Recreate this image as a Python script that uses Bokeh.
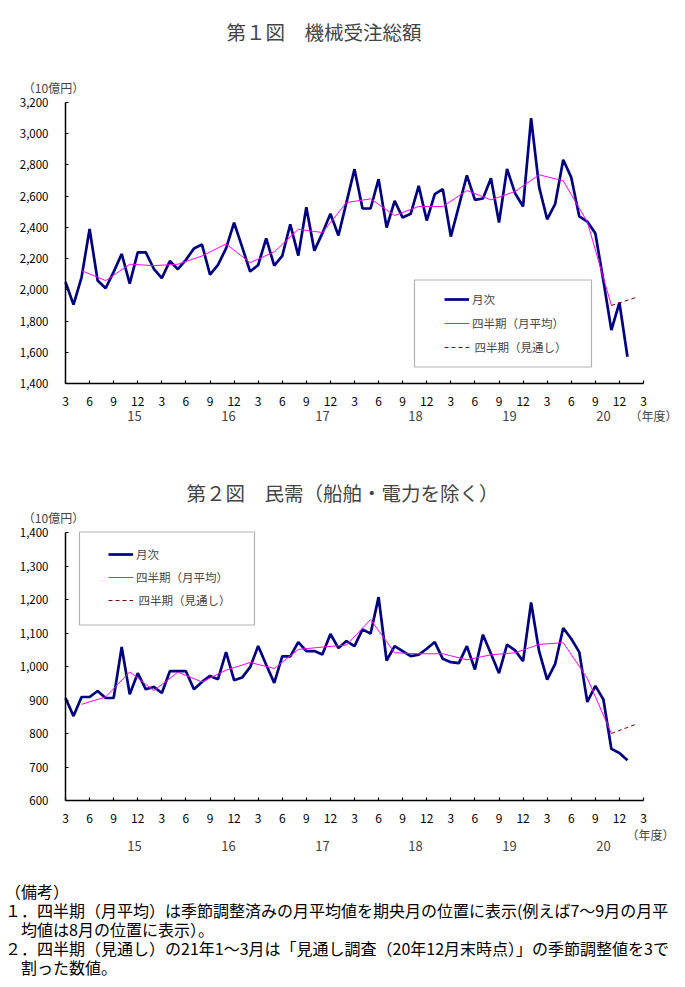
from bokeh.plotting import figure
from bokeh.models import (FixedTicker, NumeralTickFormatter, Label, Legend, LegendItem,
                          BoxAnnotation, Range1d, Div)
from bokeh.layouts import column
from bokeh.embed import file_html
from bokeh.resources import INLINE

FONT = "Noto Sans CJK JP"

# ---------------- data ----------------
month_tick_labels = ["3", "6", "9", "12"] * 6 + ["3"]
year_labels = ["15", "16", "17", "18", "19", "20"]
legend_labels = ["月次", "四半期（月平均）", " 四半期（見通し）"]

# Chart 1: total machinery orders (10 billion yen), monthly from Mar-2015
monthly_total = [2050, 1905, 2080, 2390, 2060, 2010, 2115, 2230, 2040, 2240,
                 2240, 2135, 2075, 2185, 2132, 2192, 2265, 2290, 2098, 2160,
                 2266, 2431, 2275, 2117, 2159, 2330, 2155, 2217, 2420, 2219,
                 2529, 2251, 2363, 2487, 2348, 2560, 2773, 2521, 2521, 2709,
                 2399, 2570, 2463, 2487, 2666, 2444, 2613, 2645, 2341, 2537,
                 2733, 2576, 2585, 2715, 2431, 2775, 2619, 2534, 3100, 2658,
                 2452, 2551, 2833, 2720, 2470, 2437, 2362, 2060, 1742, 1918,
                 1571]
quarterly_total = [2123, 2059, 2164, 2155, 2164, 2217, 2294, 2174, 2243, 2388,
                   2367, 2559, 2583, 2476, 2534, 2534, 2636, 2576, 2630, 2737,
                   2698, 2435, 1900]
outlook_total = [1900, 1950]

# Chart 2: private demand excl. ships & electric power
monthly_private = [906, 852, 909, 909, 927, 906, 906, 1058, 917, 980,
                   932, 939, 921, 986, 986, 986, 932, 954, 972, 962,
                   1043, 959, 967, 998, 1061, 1005, 951, 1030, 1030, 1073,
                   1046, 1046, 1036, 1097, 1055, 1076, 1061, 1111, 1098, 1207,
                   1018, 1061, 1046, 1031, 1035, 1053, 1073, 1023, 1013, 1010,
                   1061, 991, 1095, 1038, 980, 1065, 1048, 1016, 1191, 1045,
                   961, 1008, 1115, 1083, 1043, 894, 942, 902, 754, 742,
                   720]
quarterly_private = [887, 909, 984, 928, 983, 954, 989, 1012, 994, 1051,
                     1058, 1064, 1140, 1041, 1038, 1038, 1020, 1035, 1041, 1066,
                     1071, 965, 800]
outlook_private = [800, 827]

notes = [
    "（備考）",
    "１．四半期（月平均）は季節調整済みの月平均値を期央月の位置に表示(例えば7～9月の月平",
    "　均値は8月の位置に表示）。",
    "２．四半期（見通し）の21年1～3月は「見通し調査（20年12月末時点）」の季節調整値を3で",
    "　割った数値。",
]

# ---------------- layout (page pixels) ----------------
N_MONTHS = 72          # x axis from Mar-2015 to Mar-2021
FIG_W = 685
AX_LEFT, AX_RIGHT = 65, 643   # pixel span of the month axis


def make_chart(title, ymin, ymax, ystep, monthly, quarterly, outlook, lay):
    top, bottom = lay["fig_top"], lay["fig_bottom"]
    ax_top, ax_bottom = lay["ax_top"], lay["ax_bottom"]
    dx = N_MONTHS / (AX_RIGHT - AX_LEFT)
    dy = (ymax - ymin) / (ax_bottom - ax_top)

    def X(px):
        return (px - AX_LEFT) * dx

    def Y(py):
        return ymin + (ax_bottom - py) * dy

    p = figure(width=FIG_W, height=bottom - top, output_backend="svg",
               toolbar_location=None, tools="", title=None,
               x_range=Range1d(X(0), X(FIG_W)), y_range=Range1d(Y(bottom), Y(top)),
               min_border=0, min_border_left=0, min_border_right=0,
               min_border_top=0, min_border_bottom=0)
    p.outline_line_color = None
    p.grid.visible = False
    p.background_fill_color = "white"
    p.border_fill_color = "white"

    # axes, fixed at the data origin
    p.xaxis.fixed_location = ymin
    p.xaxis.bounds = (0, N_MONTHS)
    p.xaxis.ticker = FixedTicker(ticks=list(range(0, N_MONTHS + 1, 3)))
    p.xaxis.major_label_overrides = {i * 3: s for i, s in enumerate(month_tick_labels)}
    p.yaxis.fixed_location = 0
    p.yaxis.bounds = (ymin, ymax)
    p.yaxis.ticker = FixedTicker(ticks=list(range(ymin, ymax + 1, ystep)))
    p.yaxis.formatter = NumeralTickFormatter(format="0,0")
    for ax in (p.xaxis, p.yaxis):
        ax.axis_line_color = "black"
        ax.axis_line_width = 1.5
        ax.major_tick_in = 3
        ax.major_tick_out = 0
        ax.major_tick_line_color = "black"
        ax.major_tick_line_width = 1.2
        ax.minor_tick_line_color = None
        ax.major_label_text_font = FONT
        ax.major_label_text_color = "black"
    p.xaxis.major_label_text_font_size = "12px"
    p.yaxis.major_label_text_font_size = "11.5px"
    p.xaxis.major_label_standoff = 13
    p.yaxis.major_label_standoff = 17

    xm = list(range(len(monthly)))
    xq = list(range(2, 2 + 3 * len(quarterly), 3))
    xo = [xq[-1], xq[-1] + 3]

    r1 = p.line(xm, monthly, line_color="#000080", line_width=2.7)
    r2 = p.line(xq, quarterly, line_color="#FF00FF", line_width=1)
    r3 = p.line(xo, outlook, line_color="#800000", line_width=1, line_dash="4 3")

    # legend (its frame is drawn separately)
    lg = Legend(items=[LegendItem(label=legend_labels[0], renderers=[r1]),
                       LegendItem(label=legend_labels[1], renderers=[r2]),
                       LegendItem(label=legend_labels[2], renderers=[r3])],
                location=(lay["lg_left"], bottom - lay["lg_bottom"]),
                padding=0, margin=0, spacing=lay["lg_spacing"],
                glyph_width=25, glyph_height=20, label_height=20, label_standoff=3,
                label_text_font=FONT, label_text_font_size="11.5px",
                border_line_alpha=0, background_fill_alpha=0)
    p.add_layout(lg)
    bx = lay["box"]
    p.add_layout(BoxAnnotation(left=X(bx[0]), right=X(bx[1]), top=Y(bx[2]), bottom=Y(bx[3]),
                               fill_alpha=0, line_color="black", line_width=1.2))

    # title and other texts
    p.add_layout(Label(x=X(lay["title_x"]), y=Y(lay["title_y"]), text=title,
                       text_font=FONT, text_font_size="19.5px",
                       text_align="left", text_baseline="middle"))
    p.add_layout(Label(x=X(53), y=Y(lay["unit_y"]), text="（10億円）",
                       text_font=FONT, text_font_size="12px",
                       text_align="center", text_baseline="middle"))
    for xpos, s in zip(lay["year_x"], year_labels):
        p.add_layout(Label(x=X(xpos), y=Y(lay["year_y"]), text=s,
                           text_font=FONT, text_font_size="13px",
                           text_align="center", text_baseline="middle"))
    p.add_layout(Label(x=X(lay["nendo"][0]), y=Y(lay["nendo"][1]), text="（年度）",
                       text_font=FONT, text_font_size="12px",
                       text_align="center", text_baseline="middle"))
    return p


year_x_ref = [134, 228, 322, 415, 509, 603]

lay1 = dict(fig_top=0, fig_bottom=460, ax_top=102, ax_bottom=383,
            title_x=226, title_y=31, unit_y=86.5, year_x=year_x_ref, year_y=415,
            nendo=(653, 415), lg_left=444, lg_bottom=357, lg_spacing=4,
            box=(414, 591, 279.5, 366.5))
lay2 = dict(fig_top=460, fig_bottom=870, ax_top=532, ax_bottom=800,
            title_x=186, title_y=492, unit_y=517, year_x=year_x_ref, year_y=845,
            nendo=(650, 834), lg_left=108, lg_bottom=610, lg_spacing=3,
            box=(79, 254, 531.5, 624.5))

p1 = make_chart("第１図　機械受注総額", 1400, 3200, 200,
                monthly_total, quarterly_total, outlook_total, lay1)
p2 = make_chart("第２図　民需（船舶・電力を除く）", 600, 1400, 100,
                monthly_private, quarterly_private, outlook_private, lay2)

line_divs = "".join(
    "<div style='height:19px;line-height:19px;overflow:visible;'>%s</div>" % s for s in notes)
notes_html = ("<div style='font-family:\"Noto Sans CJK JP\";font-size:16px;"
              "white-space:nowrap;padding-top:12px;padding-left:5px;color:#000;'>"
              + line_divs + "</div>")
div = Div(text=notes_html, width=FIG_W, height=112, margin=(0, 0, 0, 0))

layout = column(p1, p2, div, spacing=0)
open("out.html", "w").write(file_html(layout, INLINE))
